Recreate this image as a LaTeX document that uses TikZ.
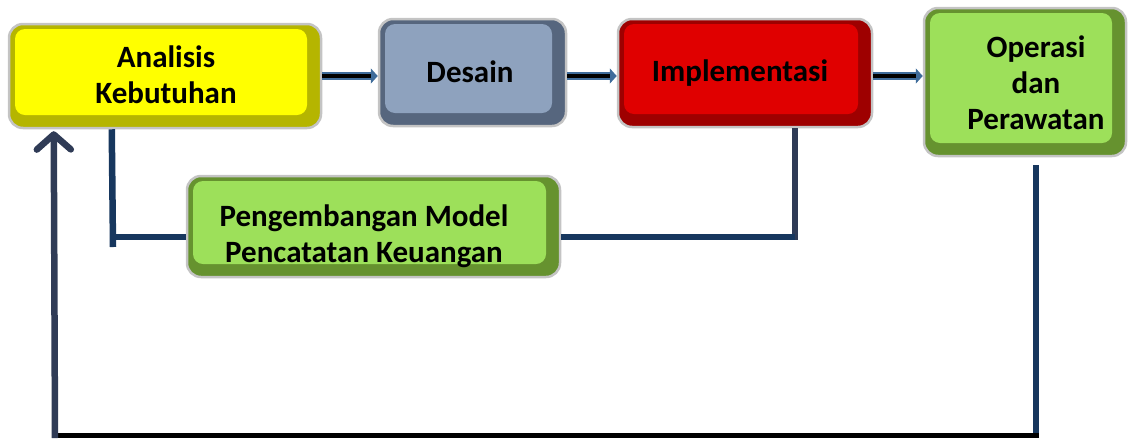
\documentclass[tikz,border=0pt]{standalone}
\usepackage{fontspec}
\setmainfont{Carlito}
\usetikzlibrary{arrows.meta}
\definecolor{navy}{HTML}{17375E}
\definecolor{slate}{HTML}{2F3B56}
\definecolor{arrblue}{HTML}{3F6C9B}
\definecolor{yface}{HTML}{FFFF00}
\definecolor{yedge}{HTML}{B5B500}
\definecolor{bface}{HTML}{8EA2BE}
\definecolor{bedge}{HTML}{56667E}
\definecolor{rface}{HTML}{E00000}
\definecolor{redge}{HTML}{9E0000}
\definecolor{gface}{HTML}{9DE05A}
\definecolor{gedge}{HTML}{66922F}
\definecolor{ring}{HTML}{C4C4C4}
\begin{document}
\begin{tikzpicture}[x=1pt,y=-1pt,
  box/.style n args={2}{draw=ring, line width=2.5pt, fill=#2, rounded corners=14pt,
    inner sep=0pt,
    path picture={\fill[#1, rounded corners=10pt]
      ([xshift=6pt,yshift=-5pt]path picture bounding box.north west) rectangle
      ([xshift=-14pt,yshift=13pt]path picture bounding box.south east);}},
  lbl/.style={font=\fontsize{31}{36}\selectfont\bfseries, align=center, inner sep=0pt},
  flowout/.style={draw=arrblue, line width=7.5pt, -{Triangle[length=7pt,width=15pt]}},
  flowin/.style={draw=black, line width=3.5pt},
  fb/.style={draw=navy, line width=6.5pt},
  fbs/.style={draw=slate, line width=6.5pt}
]
\useasboundingbox (0,0) rectangle (1129,440);

% boxes
\node[box={yface}{yedge}, minimum width=312pt, minimum height=104pt] (an) at (165,76) {};
\node[box={bface}{bedge}, minimum width=187pt, minimum height=107pt] (de) at (472.5,72.5) {};
\node[box={rface}{redge}, minimum width=254pt, minimum height=108pt] (im) at (745,73) {};
\node[box={gface}{gedge}, minimum width=202pt, minimum height=148pt] (op) at (1025,82) {};
\node[box={gface}{gedge}, minimum width=373pt, minimum height=101pt] (pm) at (373.5,226.5) {};

% labels
\node[lbl] (tan) at (166,75) {Analisis\\Kebutuhan};
\node[lbl] (tde) at (470,72) {Desain};
\node[lbl] (tim) at (740,73) {Implementasi};
\node[lbl] (top) at (1036,83) {Operasi\\dan\\Perawatan};
\node[lbl] (tpm) at (364,236) {Pengembangan Model\\Pencatatan Keuangan};

% forward arrows
\coordinate (s1) at (an.east);
\coordinate (s2) at ([yshift=-3.5pt]de.east);
\coordinate (s3) at ([yshift=-3pt]im.east);
\draw[flowout] (s1) -- (s1 -| de.west);
\draw[flowin] (s1) -- ([xshift=-7pt]s1 -| de.west);
\draw[flowout] (s2) -- (s2 -| im.west);
\draw[flowin] (s2) -- ([xshift=-7pt]s2 -| im.west);
\draw[flowout] (s3) -- (s3 -| op.west);
\draw[flowin] (s3) -- ([xshift=-7pt]s3 -| op.west);

% links to Pengembangan Model
\coordinate (a1) at ([xshift=104pt]an.south west);
\coordinate (a2) at (113,247);
\coordinate (a3) at (110,237);
\draw[fb] (a1) -- (a2);
\draw[fb] (a3) -- (a3 -| pm.west);
\coordinate (i1) at ([xshift=50pt]im.south);
\coordinate (i2) at (795,240);
\coordinate (i3) at (795,237);
\draw[fbs] (i1) -- (i2);
\draw[fb] ([yshift=-10.5pt]pm.east) -- (i3);

% feedback loop
\coordinate (o1) at (1036,165);
\coordinate (o2) at (1036,438);
\coordinate (b1) at (1039,435);
\coordinate (b2) at (52,435);
\coordinate (l1) at (55,438);
\coordinate (l2) at ([xshift=46pt,yshift=-2pt]an.south west);
\draw[fb] (o1) -- (o2);
\draw[draw=black, line width=5pt] (b1) -- (b2);
\draw[fbs, -{Straight Barb[length=15pt,width=34pt,round]}] (l1) -- (l2);
\end{tikzpicture}
\end{document}
